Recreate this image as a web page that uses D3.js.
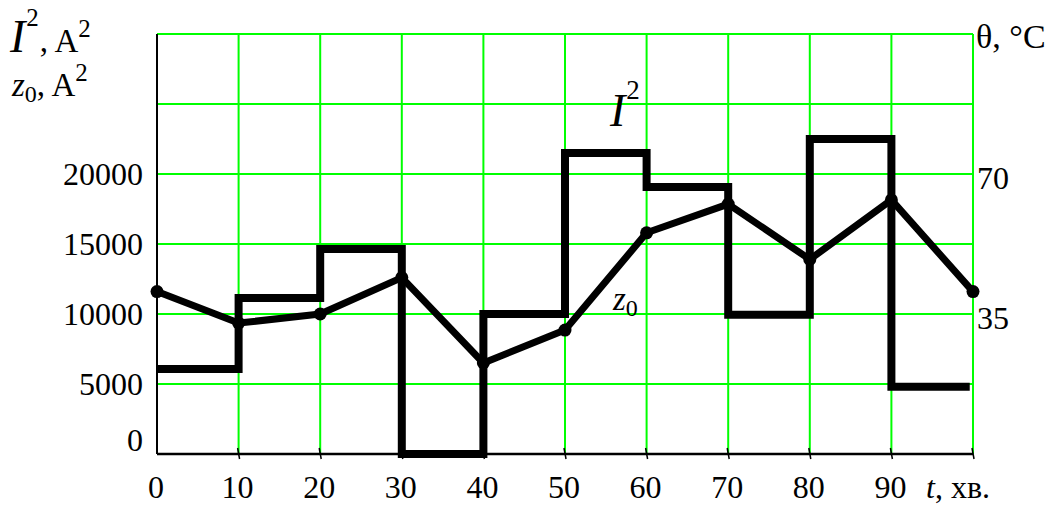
<!DOCTYPE html>
<html>
<head>
<meta charset="utf-8">
<script src="https://cdn.jsdelivr.net/npm/d3@7"></script>
<style>
  body { margin: 0; background: #fff; }
  text { font-family: "Liberation Serif", "Times New Roman", serif; fill: #000; }
</style>
</head>
<body>
<script>
// time, minutes
var tTicks = [0, 10, 20, 30, 40, 50, 60, 70, 80, 90];
// I^2 per 10 min interval (A^2)
var i2Steps = [6070, 11150, 14650, 0, 10000, 21500, 19070, 9950, 22500, 4800];
// z0 at every 10 min (A^2)
var z0Times = [0, 10, 20, 30, 40, 50, 60, 70, 80, 90, 100];
var z0Vals = [11600, 9350, 10000, 12600, 6500, 8850, 15800, 17850, 13900, 18150, 11600];
var leftTicks = [0, 5000, 10000, 15000, 20000];
var gridY = [0, 5000, 10000, 15000, 20000, 25000, 30000];
var rightTicks = [35, 70];

var width = 1057, height = 509;
var svg = d3.select("body").append("svg")
    .attr("width", width)
    .attr("height", height);

var x = d3.scaleLinear().domain([0, 100]).range([157, 973]);
var y = d3.scaleLinear().domain([0, 30000]).range([454, 34]);
var yT = d3.scaleLinear().domain([0, 105]).range([454, 34]);

// grid
var grid = svg.append("g").attr("stroke", "#00ff00").attr("stroke-width", 2);
grid.selectAll("line.v")
  .data(tTicks.concat([100]))
  .enter().append("line")
    .attr("class", "v")
    .attr("x1", function(d) { return x(d); })
    .attr("x2", function(d) { return x(d); })
    .attr("y1", y(30000))
    .attr("y2", y(0));
grid.selectAll("line.h")
  .data(gridY)
  .enter().append("line")
    .attr("class", "h")
    .attr("x1", x(0))
    .attr("x2", x(100))
    .attr("y1", function(d) { return y(d); })
    .attr("y2", function(d) { return y(d); });

// left axis (line only)
svg.append("line")
  .attr("x1", x(0)).attr("x2", x(0))
  .attr("y1", y(30000)).attr("y2", y(0))
  .attr("stroke", "#000").attr("stroke-width", 2);

// bottom axis line
svg.append("line")
  .attr("x1", x(0)).attr("x2", x(100))
  .attr("y1", y(0)).attr("y2", y(0))
  .attr("stroke", "#000").attr("stroke-width", 2.5);

// small slanted tick marks
svg.append("g").selectAll("line")
  .data(tTicks.slice(1).concat([100]))
  .enter().append("line")
    .attr("x1", function(d) { return x(d) - 1; })
    .attr("x2", function(d) { return x(d) + 1; })
    .attr("y1", y(0) - 6)
    .attr("y2", y(0) + 5)
    .attr("stroke", "#000")
    .attr("stroke-width", 1.5);

// bottom tick labels
svg.append("g").selectAll("text")
  .data(tTicks)
  .enter().append("text")
    .attr("x", function(d) { return x(d) - 1; })
    .attr("y", 498)
    .attr("text-anchor", "middle")
    .attr("font-size", 32)
    .text(function(d) { return d; });

// left tick labels
svg.append("g").selectAll("text")
  .data(leftTicks)
  .enter().append("text")
    .attr("x", 143)
    .attr("y", function(d) { return y(d) - (d === 0 ? 14 : 0); })
    .attr("dy", "0.35em")
    .attr("text-anchor", "end")
    .attr("font-size", 32)
    .text(function(d) { return d; });

// right tick labels
svg.append("g").selectAll("text")
  .data(rightTicks)
  .enter().append("text")
    .attr("x", 977)
    .attr("y", function(d) { return yT(d) + 4; })
    .attr("dy", "0.35em")
    .attr("font-size", 32)
    .text(function(d) { return d; });

// I^2 step line
var stepPts = i2Steps.map(function(v, i) { return [tTicks[i], v]; });
stepPts.push([99.6, i2Steps[i2Steps.length - 1]]);
var stepLine = d3.line()
  .x(function(d) { return x(d[0]); })
  .y(function(d) { return y(d[1]); })
  .curve(d3.curveStepAfter);
svg.append("path")
  .datum(stepPts)
  .attr("d", stepLine)
  .attr("fill", "none")
  .attr("stroke", "#000")
  .attr("stroke-width", 8)
  .attr("stroke-linejoin", "miter");

// z0 line with dots
var zPts = z0Times.map(function(t, i) { return [t, z0Vals[i]]; });
var zLine = d3.line()
  .x(function(d) { return x(d[0]); })
  .y(function(d) { return y(d[1]); });
svg.append("path")
  .datum(zPts)
  .attr("d", zLine)
  .attr("fill", "none")
  .attr("stroke", "#000")
  .attr("stroke-width", 7)
  .attr("stroke-linejoin", "round");
svg.append("g").selectAll("circle")
  .data(zPts)
  .enter().append("circle")
    .attr("cx", function(d) { return x(d[0]); })
    .attr("cy", function(d) { return y(d[1]); })
    .attr("r", 6.5)
    .attr("fill", "#000");

// axis titles
var t1 = svg.append("text").attr("x", 10).attr("y", 52).attr("font-size", 33);
t1.append("tspan").attr("font-style", "italic").attr("font-size", 46).text("I");
t1.append("tspan").attr("font-size", 25).attr("dy", -26).attr("dx", 1).text("2");
t1.append("tspan").attr("dy", 26).attr("dx", 1).text(", A");
t1.append("tspan").attr("font-size", 25).attr("dy", -15).text("2");

var t2 = svg.append("text").attr("x", 12).attr("y", 96).attr("font-size", 33);
t2.append("tspan").attr("font-style", "italic").text("z");
t2.append("tspan").attr("font-size", 24).attr("dy", 6).text("0");
t2.append("tspan").attr("dy", -6).text(", A");
t2.append("tspan").attr("font-size", 25).attr("dy", -15).text("2");

svg.append("text").attr("x", 976).attr("y", 48).attr("font-size", 34).text("\u03B8, \u00B0C");

var t3 = svg.append("text").attr("x", 926).attr("y", 498).attr("font-size", 32);
t3.append("tspan").attr("font-style", "italic").text("t");
t3.append("tspan").text(", хв.");

// series labels
var l1 = svg.append("text").attr("x", 610).attr("y", 126).attr("font-size", 46);
l1.append("tspan").attr("font-style", "italic").text("I");
l1.append("tspan").attr("font-size", 27).attr("dy", -27).attr("dx", 1).text("2");

var l2 = svg.append("text").attr("x", 613).attr("y", 310).attr("font-size", 33);
l2.append("tspan").attr("font-style", "italic").text("z");
l2.append("tspan").attr("font-size", 24).attr("dy", 6).text("0");
</script>
</body>
</html>
